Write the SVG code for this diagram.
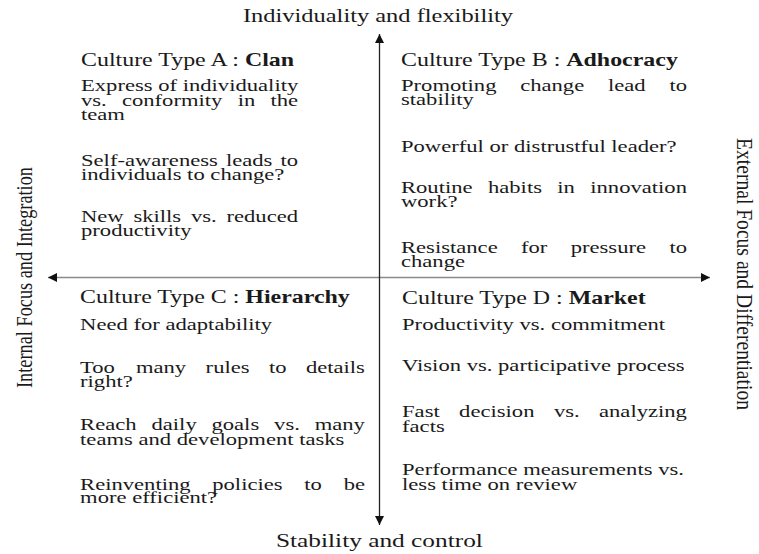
<svg xmlns="http://www.w3.org/2000/svg" width="759" height="554" viewBox="0 0 759 554">
  <style>
    text { font-family: "Liberation Serif", "Times New Roman", serif; fill: #1a1a1a; }
    .h { font-size: 18px; }
    .b { font-weight: bold; }
    .t { font-size: 17px; }
    .ax { font-size: 18.5px; }
    .vax { font-size: 18.5px; }
  </style>
  <defs>
    <marker id="arrow" viewBox="0 0 10 10" refX="10" refY="5" markerWidth="10" markerHeight="9" markerUnits="userSpaceOnUse" orient="auto-start-reverse">
      <path d="M0,0 L10,5 L0,10 z" fill="#111"/>
    </marker>
  </defs>

  <rect width="759" height="554" fill="#fff"/>

  <!-- axes -->
  <g id="connectors">
    <path d="M48,277.5 H710" stroke="#8a8a8a" stroke-width="1.6" fill="none" marker-start="url(#arrow)" marker-end="url(#arrow)"/>
    <path d="M379.5,525 V34" stroke="#222" stroke-width="1.3" fill="none" marker-start="url(#arrow)" marker-end="url(#arrow)"/>
  </g>

  <!-- axis labels -->
  <g id="axis-labels">
    <g transform="scale(1.33,1)">
      <text class="ax" x="284.2" y="22" text-anchor="middle" textLength="203" lengthAdjust="spacingAndGlyphs">Individuality and flexibility</text>
      <text class="ax" x="285.3" y="547" text-anchor="middle" textLength="155.6" lengthAdjust="spacingAndGlyphs">Stability and control</text>
    </g>
    <text class="vax" transform="translate(32,277.5) scale(1.2,1) rotate(-90)" x="0" y="0" text-anchor="middle" textLength="221" lengthAdjust="spacingAndGlyphs">Internal Focus and Integration</text>
    <text class="vax" transform="translate(737,274) scale(1.2,1) rotate(90)" x="0" y="0" text-anchor="middle" textLength="272" lengthAdjust="spacingAndGlyphs">External Focus and Differentiation</text>
  </g>

  <!-- quadrant texts: horizontally stretched, justified lines set word by word -->
  <g transform="scale(1.33,1)">
    <!-- upper left -->
    <g id="clan">
      <text class="h" x="60.9" y="66">Culture Type A : <tspan class="b">Clan</tspan></text>
      <text class="t" x="60.9" y="91">Express of individuality</text>
      <text class="t" y="106"><tspan x="60.9">vs.</tspan><tspan x="91.7">conformity</tspan><tspan x="178.7">in</tspan><tspan x="203.3">the</tspan></text>
      <text class="t" x="60.9" y="120">team</text>
      <text class="t" y="166"><tspan x="60.9">Self-awareness</tspan><tspan x="169.9">leads</tspan><tspan x="210.9">to</tspan></text>
      <text class="t" x="60.9" y="180">individuals to change?</text>
      <text class="t" y="222"><tspan x="60.9">New</tspan><tspan x="100.3">skills</tspan><tspan x="143.6">vs.</tspan><tspan x="170.3">reduced</tspan></text>
      <text class="t" x="60.9" y="236">productivity</text>
    </g>

    <!-- upper right -->
    <g id="adhocracy">
      <text class="h" x="301.5" y="66">Culture Type B : <tspan class="b">Adhocracy</tspan></text>
      <text class="t" y="91"><tspan x="301.5">Promoting</tspan><tspan x="391.1">change</tspan><tspan x="457.1">lead</tspan><tspan x="503.3">to</tspan></text>
      <text class="t" x="301.5" y="105">stability</text>
      <text class="t" x="301.5" y="152">Powerful or distrustful leader?</text>
      <text class="t" y="193"><tspan x="301.5">Routine</tspan><tspan x="366.9">habits</tspan><tspan x="419">in</tspan><tspan x="443.8">innovation</tspan></text>
      <text class="t" x="301.5" y="207">work?</text>
      <text class="t" y="253"><tspan x="301.5">Resistance</tspan><tspan x="391.7">for</tspan><tspan x="429.1">pressure</tspan><tspan x="503.3">to</tspan></text>
      <text class="t" x="301.5" y="267">change</text>
    </g>

    <!-- lower left -->
    <g id="hierarchy">
      <text class="h" x="60.2" y="303">Culture Type C : <tspan class="b">Hierarchy</tspan></text>
      <text class="t" x="60.2" y="330">Need for adaptability</text>
      <text class="t" y="373"><tspan x="60.2">Too</tspan><tspan x="102.2">many</tspan><tspan x="154.6">rules</tspan><tspan x="202.2">to</tspan><tspan x="230">details</tspan></text>
      <text class="t" x="60.2" y="387">right?</text>
      <text class="t" y="430"><tspan x="60.2">Reach</tspan><tspan x="113.9">daily</tspan><tspan x="159">goals</tspan><tspan x="206.1">vs.</tspan><tspan x="236.6">many</tspan></text>
      <text class="t" x="60.2" y="445">teams and development tasks</text>
      <text class="t" y="490"><tspan x="60.2">Reinventing</tspan><tspan x="159.6">policies</tspan><tspan x="228.8">to</tspan><tspan x="258.4">be</tspan></text>
      <text class="t" x="60.2" y="503">more efficient?</text>
    </g>

    <!-- lower right -->
    <g id="market">
      <text class="h" x="302.3" y="304">Culture Type D : <tspan class="b">Market</tspan></text>
      <text class="t" x="302.3" y="330">Productivity vs. commitment</text>
      <text class="t" x="302.3" y="371">Vision vs. participative process</text>
      <text class="t" y="417"><tspan x="302.3">Fast</tspan><tspan x="345.2">decision</tspan><tspan x="416.5">vs.</tspan><tspan x="450.4">analyzing</tspan></text>
      <text class="t" x="302.3" y="432">facts</text>
      <text class="t" x="302.3" y="475">Performance measurements vs.</text>
      <text class="t" x="302.3" y="490">less time on review</text>
    </g>
  </g>
</svg>
